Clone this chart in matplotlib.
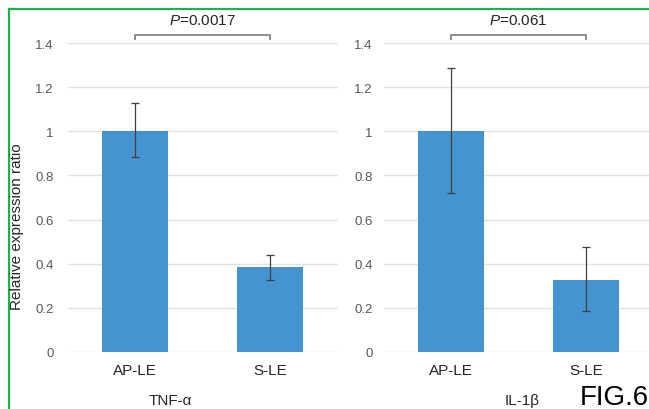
import numpy as np
import matplotlib
matplotlib.use("Agg")
import matplotlib.pyplot as plt
from matplotlib.lines import Line2D

plt.rcParams['font.family'] = ['Liberation Sans', 'DejaVu Sans']
plt.rcParams['mathtext.fontset'] = 'custom'
plt.rcParams['mathtext.it'] = 'Liberation Sans:italic'
plt.rcParams['mathtext.rm'] = 'Liberation Sans'

categories = ["AP-LE", "S-LE"]
groups = ["TNF-\u03b1", "IL-1\u03b2"]
tnf_means = [1.0, 0.385]
tnf_err_low = [0.118, 0.058]
tnf_err_high = [0.13, 0.055]
il1b_means = [1.0, 0.326]
il1b_err_low = [0.28, 0.14]
il1b_err_high = [0.285, 0.15]
p_values = ["0.0017", "0.061"]
y_ticks = [0, 0.2, 0.4, 0.6, 0.8, 1.0, 1.2, 1.4]

BAR_COLOR = "#4494d0"
W, H = 649, 410

fig = plt.figure(figsize=(W / 100, H / 100), dpi=100)


# convert pixel box to figure fraction
def px_axes(x0, y_top, x1, y_bot):
    return [x0 / W, 1 - y_bot / H, (x1 - x0) / W, (y_bot - y_top) / H]


def draw_panel(ax, means, err_low, err_high, p_text, ypad):
    x = np.arange(len(categories))
    ax.bar(x, means, width=0.49, color=BAR_COLOR, zorder=2)
    ax.errorbar(x, means, yerr=[err_low, err_high], fmt="none",
                ecolor="#404040", elinewidth=0.9, capsize=3, capthick=0.9,
                zorder=3)
    ax.set_xlim(-0.5, 1.5)
    ax.set_ylim(0, 1.4)
    ax.set_yticks(y_ticks)
    ax.set_yticklabels([f"{v:g}" for v in y_ticks])
    ax.set_xticks(x)
    ax.set_xticklabels(categories)
    ax.grid(axis="y", color="#e3e3e3", linewidth=1, zorder=0)
    ax.set_axisbelow(True)
    for s in ax.spines.values():
        s.set_visible(False)
    ax.tick_params(axis="y", length=0, pad=ypad, labelsize=9.5,
                   labelcolor="#595959")
    ax.tick_params(axis="x", length=0, pad=8, labelsize=11,
                   labelcolor="#262626")

    # significance bracket above the bars
    ax.plot([0, 0, 1, 1], [1.418, 1.436, 1.436, 1.418], color="#8c8c8c",
            lw=1.4, clip_on=False)
    ax.text(0.5, 1.505, r"$\it{P}$=" + p_text, ha="center", va="center",
            fontsize=11, color="#262626", clip_on=False)


ax1 = fig.add_axes(px_axes(67.5, 44, 337.5, 353))
draw_panel(ax1, tnf_means, tnf_err_low, tnf_err_high, p_values[0], 10)

ax2 = fig.add_axes(px_axes(383.5, 44, 653.5, 353))
draw_panel(ax2, il1b_means, il1b_err_low, il1b_err_high, p_values[1], 8)

fig.text(17.5 / W, 1 - 227 / H, "Relative expression ratio", rotation=90,
         ha="center", va="center", fontsize=11, color="#262626")

# group names sit at the very bottom edge
fig.text(170 / W, 2 / H, groups[0], ha="center", va="bottom",
         fontsize=11, color="#262626")
fig.text(522 / W, 2 / H, groups[1], ha="center", va="bottom",
         fontsize=11, color="#262626")
fig.text(580 / W, 1 - 398 / H, "FIG.6", ha="left", va="center",
         fontsize=20, color="black")

# green frame on top and left
green = "#1fb24a"
fig.add_artist(Line2D([9 / W, 9 / W], [0, 1 - 10 / H], color=green, lw=1.6,
                      transform=fig.transFigure))
fig.add_artist(Line2D([9 / W, 1], [1 - 10 / H, 1 - 10 / H], color=green,
                      lw=1.6, transform=fig.transFigure))

fig.savefig("out.png", dpi=100)
